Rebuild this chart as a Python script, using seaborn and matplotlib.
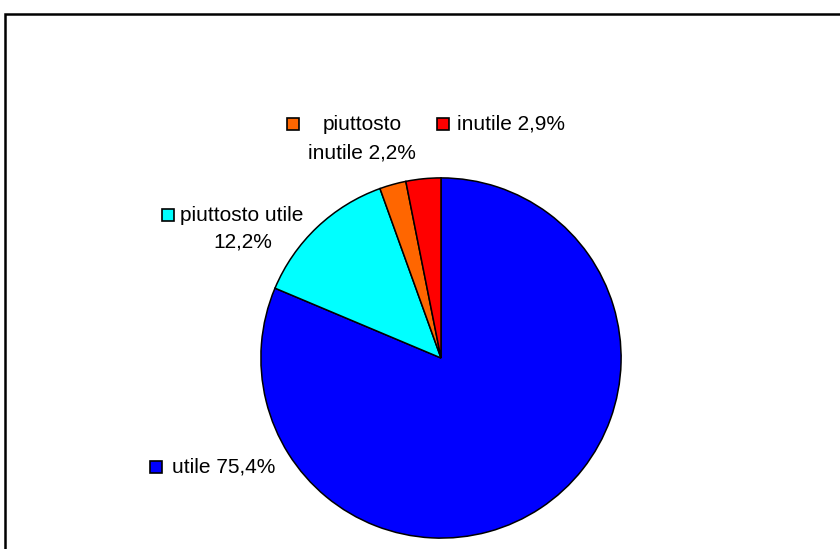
import matplotlib
matplotlib.use('Agg')
import matplotlib.pyplot as plt
from matplotlib.patches import Rectangle
import seaborn as sns

# Data
categories = ['utile', 'piuttosto utile', 'piuttosto inutile', 'inutile']
values = [75.4, 12.2, 2.2, 2.9]
colors = ['#0000FF', '#00FFFF', '#FF6600', '#FF0000']

sns.set_theme(style='white')
plt.rcParams['font.family'] = ['Liberation Sans', 'DejaVu Sans']
plt.rcParams['text.color'] = 'black'

W, H = 840, 549
fig = plt.figure(figsize=(W / 100, H / 100), dpi=100)
fig.patch.set_facecolor('white')

def px(x, y):
    return x / W, 1 - y / H

# pie axes, center (441, 358), radius 181 px
cx, cy, r = 441, 358, 181
ax = fig.add_axes([(cx - r) / W, (H - cy - r) / H, 2 * r / W, 2 * r / H])
ax.pie(values, colors=colors, startangle=90, counterclock=False,
       wedgeprops={'edgecolor': 'black', 'linewidth': 1.1})
ax.set_xlim(-1.005, 1.005)
ax.set_ylim(-1.005, 1.005)
ax.axis('off')

def pct(v):
    return f"{v:.1f}".replace('.', ',') + '%'

fs = 15

def square(x, y, color):
    fig.patches.append(Rectangle(px(x, y + 12), 12 / W, 12 / H, transform=fig.transFigure,
                                 facecolor=color, edgecolor='black', linewidth=1.2))

# labels
square(150, 461, colors[0])
fig.text(*px(172, 467), f"{categories[0]} {pct(values[0])}", fontsize=fs, va='center', ha='left', color='black')

square(162, 209, colors[1])
fig.text(*px(180, 215), categories[1], fontsize=fs, va='center', ha='left', color='black')
fig.text(*px(272, 242), pct(values[1]), fontsize=fs, va='center', ha='right', color='black')

square(287, 118, colors[2])
fig.text(*px(362, 124), 'piuttosto', fontsize=fs, va='center', ha='center', color='black')
fig.text(*px(362, 153), f"inutile {pct(values[2])}", fontsize=fs, va='center', ha='center', color='black')

square(437, 118, colors[3])
fig.text(*px(457, 124), f"{categories[3]} {pct(values[3])}", fontsize=fs, va='center', ha='left', color='black')

# outer frame (cut off at right and bottom)
fig.patches.append(Rectangle(px(5, 560), 900 / W, 546 / H, transform=fig.transFigure,
                             facecolor='none', edgecolor='black', linewidth=1.8))

fig.savefig('out.png', dpi=100)
